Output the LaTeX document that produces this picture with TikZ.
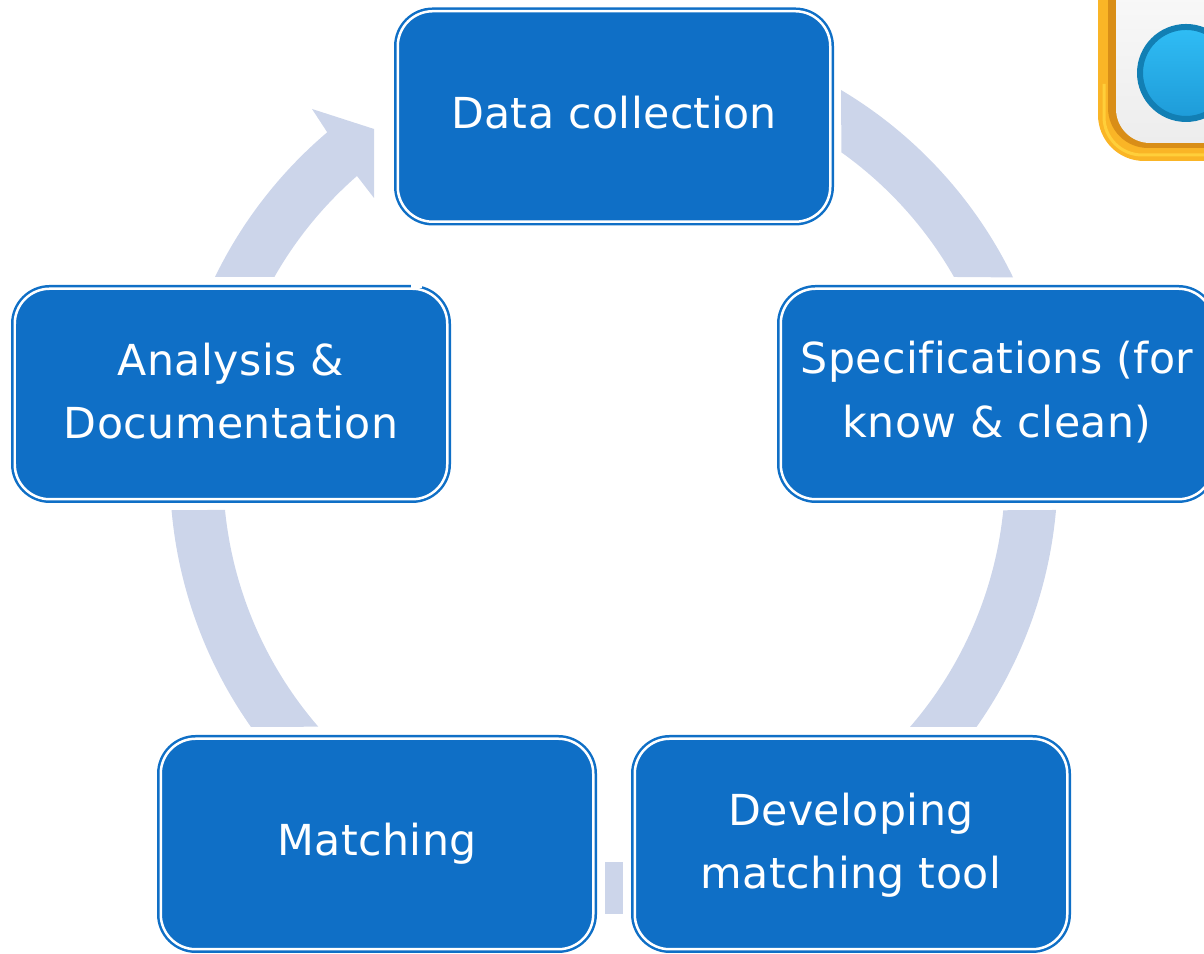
\documentclass[tikz,border=0pt]{standalone}
\usepackage{fontspec}
\usepackage{tikz}
\setmainfont[Ligatures=CommonOff,LetterSpace=1.0]{DejaVu Sans}
\definecolor{boxblue}{HTML}{0F6FC6}
\definecolor{ringblue}{HTML}{CCD5EA}
\definecolor{iconyellow}{HTML}{FAB526}
\definecolor{iconlight}{HTML}{FFCF3A}
\definecolor{iconorange}{HTML}{D98E17}
\definecolor{icongray}{HTML}{EDEDED}
\definecolor{iconpale}{HTML}{FBFBFB}
\definecolor{iconedge}{HTML}{127FB4}
\definecolor{icontop}{HTML}{30BDF5}
\definecolor{iconlow}{HTML}{1E9BD8}
\newcommand{\liftline}[2]{\raisebox{#1}[\height][\depth]{#2}}
\tikzset{
    stagebox/.style={rectangle, rounded corners=0.35cm, draw=boxblue, line width=0.025cm,
        double=white, double distance=0.025cm, fill=boxblue, text=white, align=center,
        minimum width=4.325cm, minimum height=2.105cm, inner sep=0pt,
        font=\fontsize{12.15}{17.9}\selectfont},
    ringpart/.style={fill=ringblue}
}
\begin{document}
\begin{tikzpicture}
            \clip (0,0) rectangle (12.04,9.54);
            % icon in the corner
            \fill[iconyellow, rounded corners=0.46cm] (10.98,10) rectangle (13,7.93);
            \draw[iconlight, line width=0.03cm, rounded corners=0.38cm] (11.04,8.7) -- (11.04,7.99) -- (13,7.99);
            \fill[iconorange, rounded corners=0.40cm] (11.08,10) rectangle (13,8.06);
            \shade[top color=iconpale, bottom color=icongray, rounded corners=0.34cm] (11.16,10) rectangle (13,8.11);
            \shade[top color=icontop, bottom color=iconlow, draw=iconedge, line width=0.06cm] (11.86,8.81) circle (0.46);
            % ring
            \fill[ringpart] (8.41,8.64) arc[start angle=59.2, end angle=25.9, radius=4.44]
                -- (9.54,6.77) arc[start angle=29.7, end angle=54.5, radius=3.91] -- cycle;
            \fill[ringpart] (10.56,4.44) arc[start angle=-5.04, end angle=-35.2, radius=4.44]
                -- (9.10,2.27) arc[start angle=-40.85, end angle=-5.73, radius=3.91] -- cycle;
            \fill[ringpart] (6.05,0.4) rectangle (6.23,0.92);
            \fill[ringpart] (2.51,2.27) arc[start angle=215.2, end angle=185.04, radius=4.44]
                -- (2.25,4.44) arc[start angle=185.73, end angle=220.85, radius=3.91] -- cycle;
            \fill[ringpart] (2.15,6.77) arc[start angle=154.1, end angle=130.3, radius=4.44]
                -- (3.12,8.45) -- (3.74,8.25) -- (3.74,7.56) -- (3.57,7.78)
                arc[start angle=131.1, end angle=150.3, radius=3.91] -- cycle;
            % stages
            \node[stagebox] (collection) at (6.14,8.375) {\liftline{0.04cm}{Data collection}};
            \node[stagebox] (specs) at (9.97,5.60) {\liftline{0.02cm}{Specifications (for}\\\liftline{0.01cm}{know \& clean)}};
            \node[stagebox] (tool) at (8.51,1.10) {\liftline{-0.01cm}{Developing}\\\liftline{-0.01cm}{matching tool}};
            \node[stagebox] (matching) at (3.77,1.10) {Matching};
            \node[stagebox] (analysis) at (2.31,5.60) {\liftline{0.03cm}{Analysis \&}\\\liftline{0.03cm}{Documentation}};
            % gap in the outline
            \fill[white] (4.11,6.66) rectangle (4.22,6.72);
        \end{tikzpicture}
\end{document}
